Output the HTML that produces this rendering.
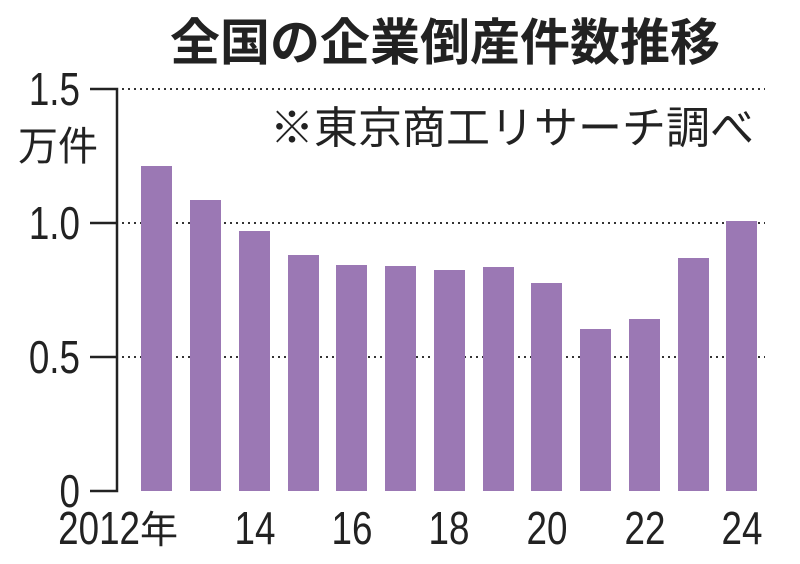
<!DOCTYPE html>
<html><head><meta charset="utf-8"><style>body{margin:0;background:#fff}svg{display:block}</style></head>
<body>
<svg width="800" height="564" xmlns="http://www.w3.org/2000/svg" font-family="Liberation Sans, Noto Sans CJK JP, sans-serif">
<rect width="800" height="564" fill="#fff"/>
<text x="445" y="60" font-size="50" font-weight="bold" text-anchor="middle" fill="#222" font-family="Noto Sans CJK JP, sans-serif">全国の企業倒産件数推移</text>
<g stroke="#333" stroke-width="2" stroke-dasharray="2,4" fill="none">
<line x1="122" y1="89" x2="765" y2="89"/>
<line x1="122" y1="223" x2="765" y2="223"/>
<line x1="122" y1="357" x2="765" y2="357"/>
</g>
<rect x="262" y="100" width="500" height="55" fill="#fff"/>
<text x="270" y="143" font-size="44" fill="#222" font-family="Noto Sans CJK JP, sans-serif">※東京商工リサーチ調べ</text>
<g fill="#9b78b4">
<rect x="141" y="166" width="31" height="325"/>
<rect x="190" y="200" width="31" height="291"/>
<rect x="239" y="231" width="31" height="260"/>
<rect x="288" y="255" width="31" height="236"/>
<rect x="336" y="265" width="31" height="226"/>
<rect x="385" y="266" width="31" height="225"/>
<rect x="434" y="270" width="31" height="221"/>
<rect x="483" y="267" width="31" height="224"/>
<rect x="531" y="283" width="31" height="208"/>
<rect x="580" y="329" width="31" height="162"/>
<rect x="629" y="319" width="31" height="172"/>
<rect x="678" y="258" width="31" height="233"/>
<rect x="726" y="221" width="31" height="270"/>
</g>
<g stroke="#222" stroke-width="2.5" fill="none">
<polyline points="90,89 117,89 117,491 90,491"/>
<line x1="90" y1="223" x2="117" y2="223"/>
<line x1="90" y1="357" x2="117" y2="357"/>
</g>
<g font-size="46" fill="#222" text-anchor="end">
<text x="80" y="105" transform="translate(80 0) scale(0.8 1) translate(-80 0)">1.5</text>
<text x="80" y="239" transform="translate(80 0) scale(0.8 1) translate(-80 0)">1.0</text>
<text x="80" y="373" transform="translate(80 0) scale(0.8 1) translate(-80 0)">0.5</text>
<text x="80" y="507" transform="translate(80 0) scale(0.8 1) translate(-80 0)">0</text>
</g>
<text x="18" y="160" font-size="40" fill="#222" font-family="Noto Sans CJK JP, sans-serif">万件</text>
<g font-size="46" fill="#222" text-anchor="middle">
<text x="140" y="544" text-anchor="end" transform="translate(140 0) scale(0.8 1) translate(-140 0)">2012</text>
<text x="140" y="543" font-size="38" font-family="Noto Sans CJK JP, sans-serif" text-anchor="start">年</text>
<text x="255" y="544" transform="translate(255 0) scale(0.8 1) translate(-255 0)">14</text>
<text x="352" y="544" transform="translate(352 0) scale(0.8 1) translate(-352 0)">16</text>
<text x="449" y="544" transform="translate(449 0) scale(0.8 1) translate(-449 0)">18</text>
<text x="547" y="544" transform="translate(547 0) scale(0.8 1) translate(-547 0)">20</text>
<text x="645" y="544" transform="translate(645 0) scale(0.8 1) translate(-645 0)">22</text>
<text x="742" y="544" transform="translate(742 0) scale(0.8 1) translate(-742 0)">24</text>
</g>
</svg>
</body></html>
